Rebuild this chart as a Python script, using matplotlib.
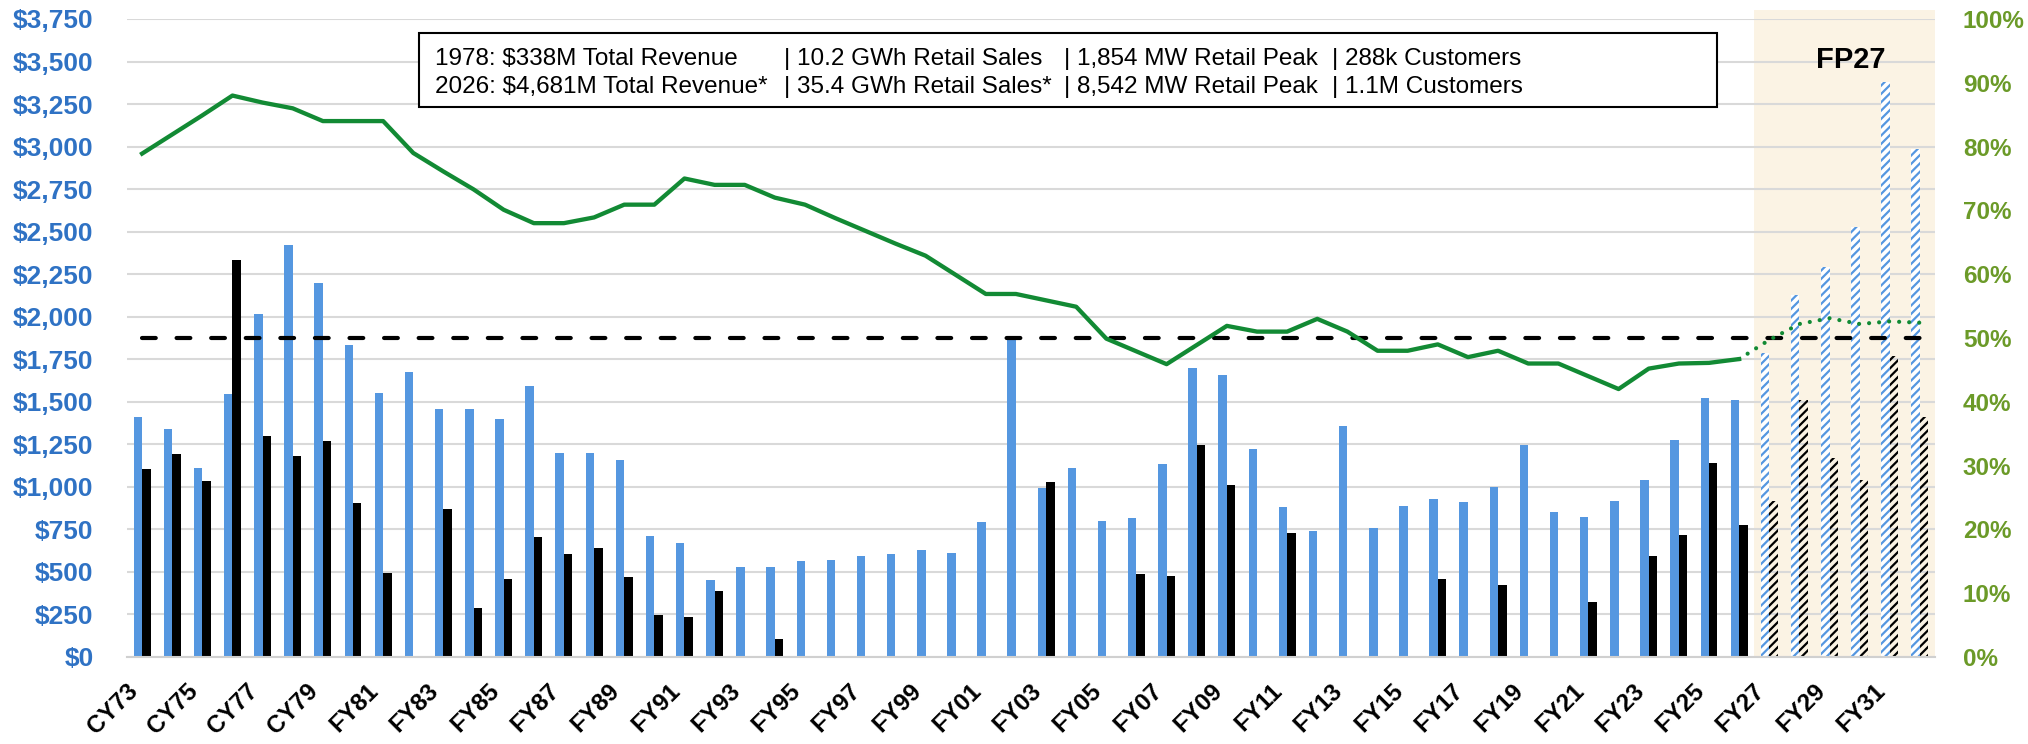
import numpy as np
import matplotlib
matplotlib.use("Agg")
import matplotlib.pyplot as plt
from matplotlib.patches import Rectangle
from matplotlib.ticker import FuncFormatter, PercentFormatter

plt.rcParams['font.family'] = ['Liberation Sans', 'DejaVu Sans']
plt.rcParams['hatch.linewidth'] = 1.6

# ---- datos ----
categorias = ['CY73', 'CY74', 'CY75', 'CY76', 'CY77', 'CY78', 'CY79', 'CY80',
              'FY81', 'FY82', 'FY83', 'FY84', 'FY85', 'FY86', 'FY87', 'FY88',
              'FY89', 'FY90', 'FY91', 'FY92', 'FY93', 'FY94', 'FY95', 'FY96',
              'FY97', 'FY98', 'FY99', 'FY00', 'FY01', 'FY02', 'FY03', 'FY04',
              'FY05', 'FY06', 'FY07', 'FY08', 'FY09', 'FY10', 'FY11', 'FY12',
              'FY13', 'FY14', 'FY15', 'FY16', 'FY17', 'FY18', 'FY19', 'FY20',
              'FY21', 'FY22', 'FY23', 'FY24', 'FY25', 'FY26', 'FY27', 'FY28',
              'FY29', 'FY30', 'FY31', 'FY32']

barras_azules = [1413, 1343, 1113, 1547, 2017, 2420, 2197, 1836,
                 1552, 1677, 1460, 1455, 1396, 1591, 1199, 1199,
                 1157, 709, 668, 453, 528, 528, 567, 573,
                 592, 606, 626, 609, 793, 1866, 993, 1110,
                 801, 815, 1135, 1697, 1655, 1221, 882, 740,
                 1355, 757, 885, 926, 910, 1001, 1249, 854,
                 821, 918, 1043, 1274, 1524, 1513, 1789, 2125,
                 2295, 2528, 3382, 2985]

barras_negras = [1107, 1196, 1035, 2334, 1299, 1182, 1271, 904,
                 495, 0, 871, 289, 456, 707, 604, 640,
                 473, 248, 236, 389, 0, 106, 0, 0,
                 0, 0, 0, 0, 0, 0, 1026, 0,
                 0, 490, 476, 1249, 1013, 0, 729, 0,
                 0, 0, 0, 459, 0, 423, 0, 0,
                 325, 0, 595, 715, 1138, 776, 918, 1510,
                 1171, 1040, 1772, 1408]

linea_pct = [0.789, 0.819, 0.849, 0.880, 0.869, 0.860, 0.840, 0.840,
             0.840, 0.790, 0.761, 0.733, 0.701, 0.680, 0.680, 0.689,
             0.709, 0.709, 0.750, 0.740, 0.740, 0.720, 0.709, 0.688,
             0.668, 0.648, 0.629, 0.599, 0.569, 0.569, 0.559, 0.549,
             0.499, 0.479, 0.459, 0.489, 0.519, 0.510, 0.510, 0.530,
             0.510, 0.480, 0.480, 0.490, 0.470, 0.480, 0.460, 0.460,
             0.440, 0.420, 0.452, 0.460, 0.461, 0.467, 0.497, 0.522,
             0.531, 0.522, 0.526, 0.524]

meta_pct = 0.50
inicio_pronostico = 'FY27'

texto_1978 = ['1978: $338M Total Revenue', '| 10.2 GWh Retail Sales',
              '| 1,854 MW Retail Peak', '| 288k Customers']
texto_2026 = ['2026: $4,681M Total Revenue*', '| 35.4 GWh Retail Sales*',
              '| 8,542 MW Retail Peak', '| 1.1M Customers']

# ---- estilo ----
AZUL = '#5597e0'
VERDE = '#128a34'
AZUL_TXT = '#2f72c4'
VERDE_TXT = '#6b9a28'
CREMA = '#fbf3e4'

W, H = 2028, 744
fig = plt.figure(figsize=(W / 100, H / 100), dpi=100)
ax = fig.add_axes([127 / W, 1 - 657 / H, (1935 - 127) / W, (657 - 19) / H])
ax2 = ax.twinx()

x = np.arange(len(categorias))
azul = np.array(barras_azules, dtype=float)
negro = np.array(barras_negras, dtype=float)
pct = np.array(linea_pct)
k = categorias.index(inicio_pronostico)
hist = x < k
prono = ~hist
w = 0.28

# zona de pronostico
ax.add_patch(Rectangle((k - 0.5, 0), len(categorias) - k, 1.014,
                       transform=ax.get_xaxis_transform(), facecolor=CREMA,
                       edgecolor='none', zorder=0.1, clip_on=False))

ax.bar(x[hist] - w / 2, azul[hist], w, color=AZUL, zorder=2)
ax.bar(x[hist] + w / 2, negro[hist], w, color='black', zorder=2)
ax.bar(x[prono] - w / 2, azul[prono], w, facecolor='white', edgecolor=AZUL,
       hatch='////', linewidth=0, zorder=2)
ax.bar(x[prono] + w / 2, negro[prono], w, facecolor='none', edgecolor='black',
       hatch='////', linewidth=0, zorder=2)

ax.set_xlim(-0.5, len(categorias) - 0.5)
ax.set_ylim(0, 3750)
ax.set_yticks(np.arange(0, 3751, 250))
ax.yaxis.set_major_formatter(FuncFormatter(lambda v, p: f'${v:,.0f}'))
ax.grid(axis='y', color='#d9d9d9', linewidth=1.5)
ax.set_axisbelow(True)
ax.tick_params(axis='y', length=0, pad=24, labelsize=19, labelcolor=AZUL_TXT)
for t in ax.get_yticklabels():
    t.set_fontweight('bold')

ax.set_xticks(x[::2])
ax.set_xticklabels(categorias[::2], rotation=45, ha='right',
                   fontsize=17.5, fontweight='bold')
ax.tick_params(axis='x', length=0, pad=16)

for s in ['top', 'left', 'right']:
    ax.spines[s].set_visible(False)
ax.spines['bottom'].set_color('#d0d0d0')
ax.spines['bottom'].set_linewidth(1.5)

# linea porcentual
ax2.plot(x[:k], pct[:k], color=VERDE, linewidth=3.1, solid_joinstyle='round', zorder=3)
ax2.plot(x[k - 1:], pct[k - 1:], color=VERDE, linewidth=3,
         linestyle=(0, (0.01, 2.4)), dash_capstyle='round', zorder=3)
ax2.plot([x[0], x[-1]], [meta_pct, meta_pct], color='black', linewidth=3,
         linestyle=(0, (3.3, 5.0)), dash_capstyle='round', zorder=2)
ax2.set_ylim(0, 1)
ax2.set_yticks(np.arange(0, 1.01, 0.1))
ax2.yaxis.set_major_formatter(PercentFormatter(1.0, decimals=0))
ax2.tick_params(axis='y', length=0, pad=20, labelsize=17.5, labelcolor=VERDE_TXT)
for t in ax2.get_yticklabels():
    t.set_fontweight('bold')
for s in ['top', 'left', 'right', 'bottom']:
    ax2.spines[s].set_visible(False)

# cuadro de texto
fig.add_artist(Rectangle((419 / W, 1 - 107 / H), (1717 - 419) / W, 74 / H,
                         transform=fig.transFigure, facecolor='white',
                         edgecolor='black', linewidth=1.5, zorder=5))
cols = [435, 784, 1064, 1332]
for cx, t1, t2 in zip(cols, texto_1978, texto_2026):
    fig.text(cx / W, 1 - 65 / H, t1, fontsize=17.5, va='baseline', zorder=6)
    fig.text(cx / W, 1 - 93 / H, t2, fontsize=17.5, va='baseline', zorder=6)

fig.text(1851 / W, 1 - 60 / H, 'FP27', ha='center', va='center',
         fontsize=21, fontweight='bold', zorder=6)

plt.savefig('out.png', dpi=100)
plt.close()
